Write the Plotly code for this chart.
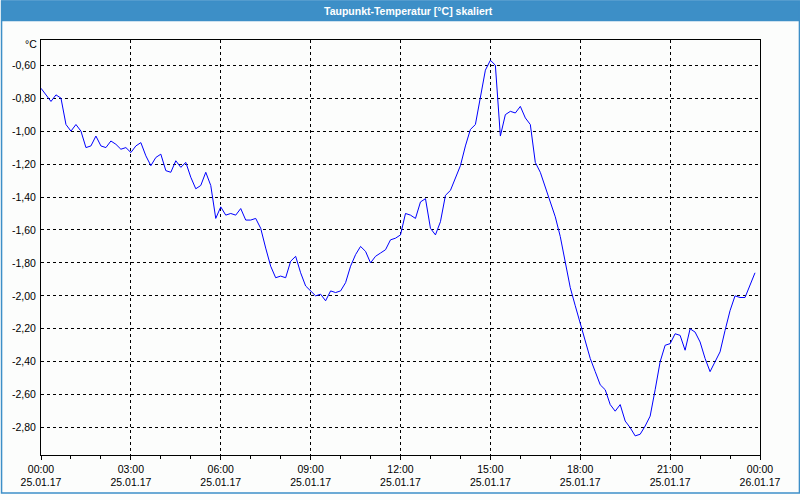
import pandas as pd
import plotly.graph_objects as go

# ---- data ----
start_time = "2017-01-25 00:00"
interval = "10min"
dewpoint = [
    -0.74, -0.78, -0.82, -0.78, -0.80, -0.96, -1.00, -0.96, -1.00, -1.10,
    -1.09, -1.03, -1.09, -1.10, -1.06, -1.08, -1.11, -1.10, -1.13, -1.09,
    -1.07, -1.15, -1.21, -1.16, -1.14, -1.24, -1.25, -1.18, -1.22, -1.19,
    -1.28, -1.35, -1.33, -1.25, -1.33, -1.53, -1.46, -1.51, -1.50, -1.51,
    -1.47, -1.54, -1.54, -1.53, -1.59, -1.71, -1.82, -1.89, -1.88, -1.89,
    -1.79, -1.76, -1.86, -1.94, -1.97, -2.00, -1.99, -2.03, -1.97, -1.98,
    -1.97, -1.92, -1.82, -1.75, -1.70, -1.73, -1.80, -1.76, -1.74, -1.72,
    -1.66, -1.65, -1.63, -1.50, -1.51, -1.53, -1.43, -1.41, -1.59, -1.63,
    -1.55, -1.39, -1.36, -1.29, -1.21, -1.09, -0.99, -0.96, -0.80, -0.63,
    -0.57, -0.60, -1.03, -0.90, -0.88, -0.89, -0.85, -0.92, -0.96, -1.19,
    -1.25, -1.34, -1.44, -1.52, -1.64, -1.79, -1.95, -2.06, -2.17, -2.27,
    -2.38, -2.46, -2.54, -2.57, -2.66, -2.70, -2.66, -2.76, -2.80, -2.85,
    -2.84, -2.79, -2.73, -2.57, -2.40, -2.30, -2.29, -2.23, -2.24, -2.33,
    -2.20, -2.22, -2.28, -2.38, -2.46, -2.40, -2.34, -2.21, -2.09, -2.00,
    -2.01, -2.01, -1.94, -1.86,
]
x_tickvals = ["2017-01-25 00:00", "2017-01-25 03:00", "2017-01-25 06:00",
              "2017-01-25 09:00", "2017-01-25 12:00", "2017-01-25 15:00",
              "2017-01-25 18:00", "2017-01-25 21:00", "2017-01-26 00:00"]
x_ticktext = ["00:00<br>25.01.17", "03:00<br>25.01.17", "06:00<br>25.01.17",
              "09:00<br>25.01.17", "12:00<br>25.01.17", "15:00<br>25.01.17",
              "18:00<br>25.01.17", "21:00<br>25.01.17", "00:00<br>26.01.17"]
y_tickvals = [-0.6, -0.8, -1.0, -1.2, -1.4, -1.6, -1.8, -2.0, -2.2, -2.4, -2.6, -2.8]
y_ticktext = ["-0,60", "-0,80", "-1,00", "-1,20", "-1,40", "-1,60", "-1,80",
              "-2,00", "-2,20", "-2,40", "-2,60", "-2,80"]
title_text = "Taupunkt-Temperatur [°C] skaliert"
unit_text = "°C"

times = pd.date_range(start_time, periods=len(dewpoint), freq=interval)

W, H = 800, 500
ML, MR, MT, MB = 40, 40, 40, 40
PW, PH = W - ML - MR, H - MT - MB


def px_x(px):
    return (px - ML) / PW


def px_y(py):
    return (H - MB - py) / PH


fig = go.Figure()
fig.add_trace(go.Scatter(
    x=times, y=dewpoint, mode="lines",
    line=dict(color="#0000ff", width=1),
    hoverinfo="skip", showlegend=False,
))

font_main = "Liberation Sans, Arial, sans-serif"

fig.update_layout(
    width=W, height=H,
    margin=dict(l=ML, r=MR, t=MT, b=MB, pad=0),
    paper_bgcolor="#fcfdfc",
    plot_bgcolor="#fcfdfc",
    font=dict(family=font_main, size=10, color="#000000"),
    xaxis=dict(
        range=[x_tickvals[0], x_tickvals[-1]],
        tickmode="array", tickvals=x_tickvals, ticktext=x_ticktext,
        ticks="outside", ticklen=4, tickcolor="#000000", tickwidth=1,
        showgrid=True, gridcolor="#000000", griddash="3px,3px", gridwidth=1,
        showline=True, linecolor="#000000", linewidth=1, mirror=True,
        zeroline=False,
        tickfont=dict(size=10.5),
        minor=dict(tickmode="linear", tick0="2017-01-25 00:00", dtick=3600000,
                   ticks="outside", ticklen=3, tickcolor="#000000", showgrid=False),
    ),
    yaxis=dict(
        range=[-2.966, -0.447],
        tickmode="array", tickvals=y_tickvals, ticktext=y_ticktext,
        ticks="", ticklabelstandoff=2,
        showgrid=True, gridcolor="#000000", griddash="3px,3px", gridwidth=1,
        showline=True, linecolor="#000000", linewidth=1, mirror=True,
        zeroline=False,
        tickfont=dict(size=10.5),
    ),
    shapes=[
        dict(type="rect", xref="paper", yref="paper",
             x0=px_x(0), x1=px_x(W), y0=px_y(0), y1=px_y(21),
             fillcolor="#3d8fc7", line=dict(width=0), layer="above"),
        dict(type="rect", xref="paper", yref="paper",
             x0=px_x(0.5), x1=px_x(799.5), y0=px_y(0.5), y1=px_y(498.5),
             fillcolor="rgba(0,0,0,0)", line=dict(color="#3d8fc7", width=1.5)),
    ],
    annotations=[
        dict(text="<b>" + title_text + "</b>", xref="paper", yref="paper",
             x=px_x(408), y=px_y(10.5), xanchor="center", yanchor="middle",
             showarrow=False, font=dict(color="#ffffff", size=10.5, family=font_main)),
        dict(text=unit_text, xref="paper", yref="paper",
             x=px_x(38), y=px_y(44), xanchor="right", yanchor="middle",
             showarrow=False, font=dict(size=10.5, family=font_main)),
    ],
)

fig.write_html(
    "out.html",
    config={"displayModeBar": False, "staticPlot": True},
    post_script=(
        "document.documentElement.style.margin='0';"
        "document.body.style.margin='0';document.body.style.padding='0';"
        "document.documentElement.style.overflow='hidden';"
        "document.body.style.overflow='hidden';"
    ),
)
